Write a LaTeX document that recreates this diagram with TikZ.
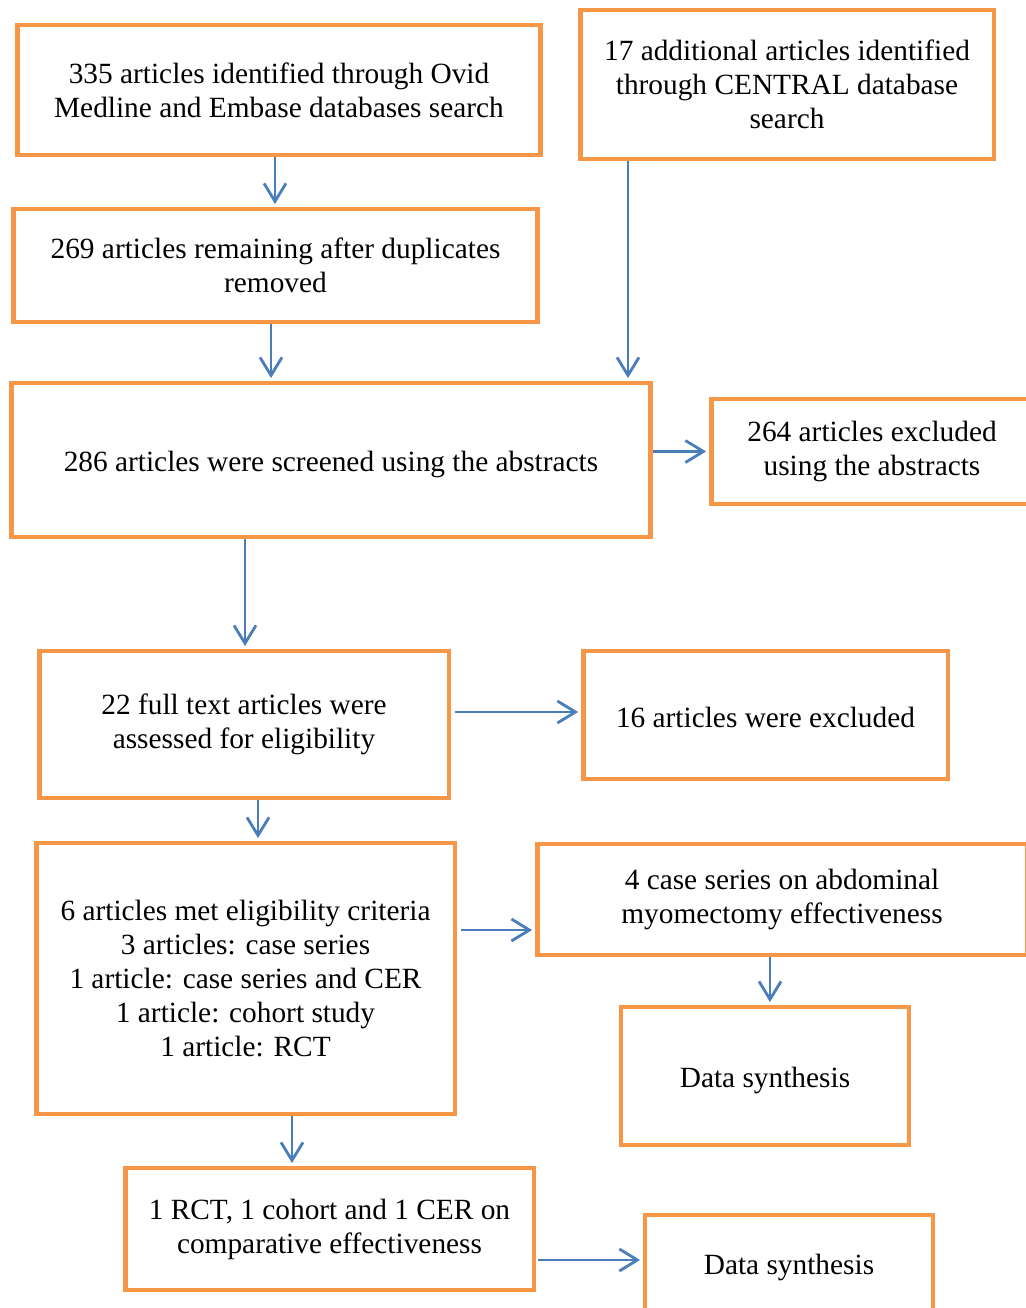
\documentclass[tikz,border=0pt]{standalone}
\usepackage{fontspec}
\setmainfont{Liberation Serif}
\usetikzlibrary{arrows.meta,calc}
\definecolor{boxOrange}{HTML}{F79646}
\definecolor{arrowBlue}{HTML}{4A7EBB}
\begin{document}
\begin{tikzpicture}[
    x=0.02cm, y=-0.02cm,
    % Style for the orange boxes
    flowBox/.style={
        rectangle,
        draw=boxOrange,
        fill=white,
        line width=2.8pt,
        inner sep=0pt,
        align=center,
        font=\fontsize{16.7}{19.4}\selectfont
    },
    % Style for the blue connectors
    flowArrow/.style={
        draw=arrowBlue,
        line width=1.6pt,
        -{Straight Barb[length=3.6mm,width=4.4mm]},
        shorten >=0.05cm
    }
]

    % --- PAGE ---
    \useasboundingbox (0,0) rectangle (1026,1308);
    \clip (0,0) rectangle (1026,1308);

    % --- IDENTIFICATION ---
    \node[flowBox, minimum width=10.48cm, minimum height=2.6cm] (ovid) at (279,90)
        {335 articles identified through Ovid\\Medline and Embase databases search};
    \node[flowBox, minimum width=8.28cm, minimum height=2.98cm] (central) at (787,84.5)
        {17 additional articles identified\\through CENTRAL database\\search};
    \node[flowBox, minimum width=10.5cm, minimum height=2.26cm] (dedup) at (275.5,265.5)
        {269 articles remaining after duplicates\\removed};

    % --- SCREENING ---
    \node[flowBox, minimum width=12.8cm, minimum height=3.08cm, text height=17pt] (screen) at (331,460)
        {286 articles were screened using the abstracts};
    \node[flowBox, minimum width=6.44cm, minimum height=2.1cm] (exclAbs) at (872,451.5)
        {264 articles excluded\\using the abstracts};

    % --- ELIGIBILITY ---
    \node[flowBox, minimum width=8.2cm, minimum height=2.94cm] (fullText) at (244,724.5)
        {22 full text articles were\\assessed for eligibility};
    \node[flowBox, minimum width=7.3cm, minimum height=2.56cm, text height=14.8pt] (exclFull) at (765.5,715)
        {16 articles were excluded};

    % --- INCLUDED ---
    \node[flowBox, minimum width=8.38cm, minimum height=5.42cm] (met) at (245.5,978.5)
        {6 articles met eligibility criteria\\3 articles: case series\\1 article: case series and CER\\1 article: cohort study\\1 article: RCT};
    \node[flowBox, minimum width=9.8cm, minimum height=2.22cm] (caseSer) at (782,899.5)
        {4 case series on abdominal\\myomectomy effectiveness};
    \node[flowBox, minimum width=5.76cm, minimum height=2.76cm, text height=17pt] (synthA) at (765,1076)
        {Data synthesis};
    \node[flowBox, minimum width=8.18cm, minimum height=2.44cm] (compar) at (329.5,1229)
        {1 RCT, 1 cohort and 1 CER on\\comparative effectiveness};
    \node[flowBox, minimum width=5.76cm, minimum height=2.1cm] (synthB) at (789,1267.5)
        {Data synthesis};

    % --- CONNECTORS ---
    \draw[flowArrow] ($(ovid.south)+(-4,0)$) -- ($(ovid.south |- dedup.north)+(-4,0)$);
    \draw[flowArrow] ($(central.south)+(-159,0)$) -- ($(central.south |- screen.north)+(-159,0)$);
    \draw[flowArrow] ($(dedup.south)+(-4.5,0)$) -- ($(dedup.south |- screen.north)+(-4.5,0)$);
    \draw[flowArrow] (screen.east |- exclAbs.west) -- (exclAbs.west);
    \draw[flowArrow] ($(screen.south)+(-86,0)$) -- ($(screen.south |- fullText.north)+(-86,0)$);
    \draw[flowArrow] ($(fullText.east |- exclFull.west)+(4,-3)$) -- ($(exclFull.west)+(0,-3)$);
    \draw[flowArrow] ($(fullText.south)+(14,0)$) -- ($(fullText.south |- met.north)+(14,0)$);
    \draw[flowArrow] ($(met.east |- caseSer.west)+(4,30.5)$) -- ($(caseSer.west)+(0,30.5)$);
    \draw[flowArrow] ($(caseSer.south)+(-12,0)$) -- ($(caseSer.south |- synthA.north)+(-12,0)$);
    \draw[flowArrow] ($(met.south)+(46.5,0)$) -- ($(met.south |- compar.north)+(46.5,0)$);
    \draw[flowArrow] ($(compar.east |- synthB.west)+(2,-7.5)$) -- ($(synthB.west)+(0,-7.5)$);

\end{tikzpicture}
\end{document}
